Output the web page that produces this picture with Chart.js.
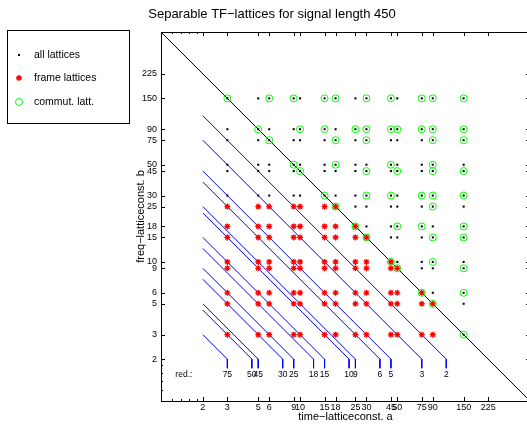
<!DOCTYPE html>
<html>
<head>
<meta charset="utf-8">
<script src="https://cdn.jsdelivr.net/npm/chart.js"></script>
<style>
  html, body { margin: 0; padding: 0; background: #fff; overflow: hidden; }
  canvas { display: block; }
</style>
</head>
<body>
<canvas id="latticeChart" width="540" height="424"></canvas>
<script>
const signalLength = 450;

// lattice constants (divisors of the signal length) that show up in the plot
const aValues = [3, 5, 6, 9, 10, 15, 18, 25, 30, 45, 50, 75, 90, 150];
const bValues = [3, 5, 6, 9, 10, 15, 18, 25, 30, 45, 50, 75, 90, 150];

// tick labels on both axes
const xTickValues = [2, 3, 5, 6, 9, 10, 15, 18, 25, 30, 45, 50, 75, 90, 150, 225];
const yTickValues = [2, 3, 5, 6, 9, 10, 15, 18, 25, 30, 45, 50, 75, 90, 150, 225];
const xMinorTicks = [1.2, 1.4, 1.6, 1.8];
const yMinorTicks = [1.2, 1.4, 1.6, 1.8];

// frame lattices: for each b, every a from aValues up to the max
const frameB = [3, 5, 6, 9, 10, 15, 18, 25];
const frameMaxA = [90, 90, 75, 50, 45, 30, 25, 18];

// commutative lattices, a values per row b
const commutB = [3, 5, 6, 9, 10, 15, 18, 25, 30, 45, 50, 75, 90, 150];
const commutA = [
  [150], [90], [75, 150], [50, 150], [45, 90], [30, 90, 150], [25, 50, 75, 150],
  [18, 90], [15, 30, 45, 75, 90, 150], [10, 30, 50, 90, 150], [9, 18, 45, 90],
  [6, 18, 30, 90, 150], [5, 10, 15, 25, 30, 45, 50, 75, 90, 150],
  [3, 6, 9, 15, 18, 30, 45, 75, 90, 150]
];

// redundancy lines: label and the a (= b) where the line hits the value 2
const redLevels = [75, 50, 45, 30, 25, 18, 15, 10, 9, 6, 5, 3, 2];
const redLineEnd = [3, 4.5, 5, 7.5, 9, 12.5, 15, 22.5, 25, 37.5, 45, 75, 112.5];
const redTailB = 1.72;
const redLabelB = 1.55;

const FONT = '"Liberation Sans", Arial, Helvetica, sans-serif';

// build point lists
const allPts = [];
bValues.forEach(b => aValues.forEach(a => allPts.push({x: a, y: b})));

const framePts = [];
frameB.forEach((b, i) => {
  aValues.filter(a => a <= frameMaxA[i]).forEach(a => framePts.push({x: a, y: b}));
});

const commutPts = [];
commutB.forEach((b, i) => commutA[i].forEach(a => commutPts.push({x: a, y: b})));

const datasets = [
  {
    label: 'commut. latt.', data: commutPts, order: 1,
    pointStyle: 'circle', pointRadius: 3.5, pointBorderWidth: 1,
    pointBorderColor: '#00ff00', pointBackgroundColor: 'rgba(0,0,0,0)'
  },
  {
    label: 'frame lattices', data: framePts, order: 2,
    pointStyle: 'star', pointRadius: 3, pointBorderWidth: 1.3,
    pointBorderColor: '#ff0000', pointBackgroundColor: '#ff0000'
  },
  {
    label: 'all lattices', data: allPts, order: 3,
    pointStyle: 'rect', pointRadius: 1.45, pointBorderWidth: 0,
    pointBackgroundColor: '#000'
  },
  {
    label: 'critical', data: [{x: 1, y: signalLength}, {x: signalLength, y: 1}], order: 4,
    showLine: true, borderColor: '#000', borderWidth: 1, pointRadius: 0
  }
];

redLevels.forEach((r, i) => {
  const e = redLineEnd[i];
  datasets.push({
    label: 'red ' + r,
    data: [{x: 2, y: e}, {x: e, y: 2}, {x: e, y: redTailB}],
    order: 5, showLine: true, borderColor: '#0000ff', borderWidth: 1,
    pointRadius: 0
  });
});

// box, inward ticks, title, legend and redundancy labels
const decorations = {
  id: 'decorations',
  afterDatasetsDraw(chart) {
    const {ctx, scales: {x, y}} = chart;
    ctx.save();
    ctx.fillStyle = '#000';
    ctx.font = '8.5px ' + FONT;
    ctx.textAlign = 'center';
    ctx.textBaseline = 'middle';
    const ly = y.getPixelForValue(redLabelB);
    redLevels.forEach((r, i) => {
      ctx.fillText(String(r), x.getPixelForValue(redLineEnd[i]), ly);
    });
    ctx.fillText('red.:', x.getPixelForValue(1.46), ly);
    ctx.restore();
  },
  afterDraw(chart) {
    const {ctx, chartArea: ca, scales: {x, y}} = chart;
    ctx.save();
    ctx.strokeStyle = '#000';
    ctx.lineWidth = 1;
    ctx.strokeRect(ca.left + 0.5, ca.top + 0.5, ca.right - ca.left, ca.bottom - ca.top);

    ctx.beginPath();
    const tickX = (v, len) => {
      const px = Math.round(x.getPixelForValue(v)) + 0.5;
      ctx.moveTo(px, ca.bottom); ctx.lineTo(px, ca.bottom - len);
      ctx.moveTo(px, ca.top); ctx.lineTo(px, ca.top + len);
    };
    const tickY = (v, len) => {
      const py = Math.round(y.getPixelForValue(v)) + 0.5;
      ctx.moveTo(ca.left, py); ctx.lineTo(ca.left + len, py);
      ctx.moveTo(ca.right, py); ctx.lineTo(ca.right - len, py);
    };
    xTickValues.forEach(v => tickX(v, 4));
    yTickValues.forEach(v => tickY(v, 4));
    xMinorTicks.forEach(v => tickX(v, 2));
    yMinorTicks.forEach(v => tickY(v, 2));
    ctx.stroke();

    // title
    ctx.fillStyle = '#000';
    ctx.font = '13px ' + FONT;
    ctx.textAlign = 'center';
    ctx.textBaseline = 'middle';
    ctx.fillText('Separable TF\u2212lattices for signal length 450', 272, 14);

    // legend
    const lx = 7, ly = 30, lw = 122, lh = 93;
    ctx.fillStyle = '#fff';
    ctx.fillRect(lx, ly, lw, lh);
    ctx.strokeRect(lx + 0.5, ly + 0.5, lw, lh);
    ctx.font = '10.5px ' + FONT;
    ctx.textAlign = 'left';
    const mx = 19;
    const rows = [55, 78, 102];
    // dot
    ctx.fillStyle = '#000';
    ctx.fillRect(mx - 1, rows[0] - 1, 2, 2);
    // star
    ctx.strokeStyle = '#ff0000';
    ctx.lineWidth = 1.3;
    ctx.beginPath();
    for (let k = 0; k < 4; k++) {
      const ang = k * Math.PI / 4;
      ctx.moveTo(mx - 3 * Math.cos(ang), rows[1] - 3 * Math.sin(ang));
      ctx.lineTo(mx + 3 * Math.cos(ang), rows[1] + 3 * Math.sin(ang));
    }
    ctx.stroke();
    // circle
    ctx.strokeStyle = '#00ff00';
    ctx.lineWidth = 1;
    ctx.beginPath();
    ctx.arc(mx, rows[2], 3.5, 0, Math.PI * 2);
    ctx.stroke();
    ctx.fillStyle = '#000';
    ['all lattices', 'frame lattices', 'commut. latt.'].forEach((t, i) => {
      ctx.fillText(t, 34, rows[i]);
    });
    ctx.restore();
  }
};

const tickCallback = v => String(v);

new Chart(document.getElementById('latticeChart'), {
  type: 'scatter',
  data: {datasets: datasets},
  options: {
    responsive: false,
    animation: false,
    events: [],
    layout: {padding: {left: 131, right: 10, top: 32, bottom: 0}},
    plugins: {
      legend: {display: false},
      tooltip: {enabled: false},
      title: {display: false}
    },
    scales: {
      x: {
        type: 'logarithmic', min: 1, max: signalLength,
        afterBuildTicks: s => { s.ticks = xTickValues.map(v => ({value: v})); },
        afterFit: s => { s.height = 23; },
        grid: {display: false, drawTicks: false},
        border: {display: false},
        ticks: {
          autoSkip: false, maxRotation: 0, padding: 1, color: '#000',
          font: {family: FONT, size: 9, lineHeight: 1.2},
          callback: tickCallback
        },
        title: {
          display: true, text: 'time\u2212latticeconst. a', color: '#000',
          font: {family: FONT, size: 11, lineHeight: 1.2},
          padding: {top: 0, bottom: 0.5}
        }
      },
      y: {
        type: 'logarithmic', min: 1, max: signalLength,
        afterBuildTicks: s => { s.ticks = yTickValues.map(v => ({value: v})); },
        afterFit: s => { s.width = 30; },
        grid: {display: false, drawTicks: false},
        border: {display: false},
        ticks: {
          autoSkip: false, padding: 4, color: '#000',
          font: {family: FONT, size: 9, lineHeight: 1.2},
          callback: tickCallback
        },
        title: {
          display: true, text: 'freq\u2212latticeconst. b', color: '#000',
          font: {family: FONT, size: 11, lineHeight: 1.2},
          padding: {top: 3, bottom: 0}
        }
      }
    }
  },
  plugins: [decorations]
});
</script>
</body>
</html>
